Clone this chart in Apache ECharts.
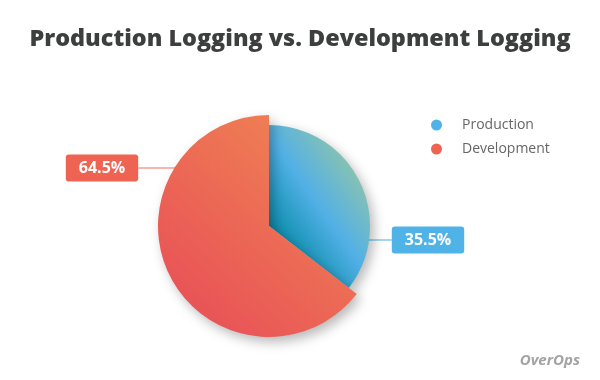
<!DOCTYPE html>
<html>
<head>
<meta charset="utf-8">
<script src="https://cdn.jsdelivr.net/npm/echarts@6/dist/echarts.min.js"></script>
<style>
html,body{margin:0;padding:0;background:#fff;}
#main{width:600px;height:380px;}
</style>
</head>
<body>
<div id="main"></div>
<script>
var titleText = 'Production Logging vs. Development Logging';
var categories = ['Production', 'Development'];
var values = [35.5, 64.5];
var labelTexts = ['35.5%', '64.5%'];
var solidColors = ['#4fb3e8', '#ee6352'];
var lineColors = ['#6cbde8', '#f07060'];

var chart = echarts.init(document.getElementById('main'), null, {renderer: 'canvas'});

var gradients = [
  new echarts.graphic.LinearGradient(0, 0.72, 1, 0.28, [
    {offset: 0, color: '#067d99'},
    {offset: 0.18, color: '#1b95b9'},
    {offset: 0.5, color: '#52b0e6'},
    {offset: 1, color: '#93c6a6'}
  ]),
  new echarts.graphic.LinearGradient(0, 1, 1, 0, [
    {offset: 0, color: '#e84a58'},
    {offset: 1, color: '#f08a52'}
  ])
];

var cx = 269, cy = 226;
var radii = [101, 111];
var labelOffsets = [[159, 14], [-167, -58]];

function makeSeries(idx) {
  return {
    type: 'pie',
    center: [cx, cy],
    radius: [0, radii[idx]],
    startAngle: 90,
    clockwise: true,
    silent: true,
    z: idx === 1 ? 3 : 2,
    emphasis: {disabled: true},
    labelLine: {show: true, length: 10, length2: 10, lineStyle: {width: 1.2, color: lineColors[idx]}},
    labelLayout: function (params) {
      var lx = cx + labelOffsets[idx][0];
      var ly = cy + labelOffsets[idx][1];
      var w = params.labelRect.width;
      var dy = labelOffsets[idx][1];
      var edge = Math.sqrt(radii[idx] * radii[idx] - dy * dy);
      var pts = idx === 0
        ? [[cx + edge - 2, ly], [lx - w / 2, ly], [lx - w / 2, ly]]
        : [[cx - edge + 2, ly], [lx + w / 2, ly], [lx + w / 2, ly]];
      return {
        x: lx,
        y: ly,
        align: 'center',
        verticalAlign: 'middle',
        labelLinePoints: pts
      };
    },
    data: categories.map(function (name, i) {
      if (i === idx) {
        return {
          name: name,
          value: values[i],
          itemStyle: {
            color: gradients[i],
            shadowBlur: 12,
            shadowOffsetX: 4,
            shadowOffsetY: 5,
            shadowColor: 'rgba(0,0,0,0.28)'
          },
          label: {
            show: true,
            position: 'outside',
            formatter: labelTexts[i],
            color: '#fff',
            fontFamily: 'Open Sans',
            fontWeight: 'bold',
            fontSize: 16,
            lineHeight: 16,
            backgroundColor: solidColors[i],
            borderRadius: 3,
            padding: [6, 13, 5, 13]
          },
          labelLine: {show: true}
        };
      }
      return {
        name: name,
        value: values[i],
        itemStyle: {color: 'rgba(0,0,0,0)'},
        label: {show: false},
        labelLine: {show: false}
      };
    })
  };
}

chart.setOption({
  animation: false,
  backgroundColor: '#fff',
  title: [{
    text: titleText,
    left: 'center',
    top: 23,
    textStyle: {fontFamily: 'Open Sans', fontWeight: 800, fontSize: 23.4, color: '#3d3f3e'}
  }, {
    text: 'OverOps',
    right: 15,
    bottom: 7,
    textStyle: {fontFamily: 'Open Sans', fontStyle: 'italic', fontWeight: 'bold', fontSize: 15, color: '#a3a3a3'}
  }],
  legend: {
    orient: 'vertical',
    left: 426,
    top: 113,
    icon: 'circle',
    itemWidth: 11,
    itemHeight: 11,
    itemGap: 10,
    selectedMode: false,
    textStyle: {fontFamily: 'Open Sans', fontSize: 14, color: '#666', padding: [0, 0, 0, 15]},
    data: categories.map(function (name, i) {
      return {name: name, itemStyle: {color: solidColors[i]}};
    })
  },
  series: [makeSeries(0), makeSeries(1)]
});
</script>
</body>
</html>
